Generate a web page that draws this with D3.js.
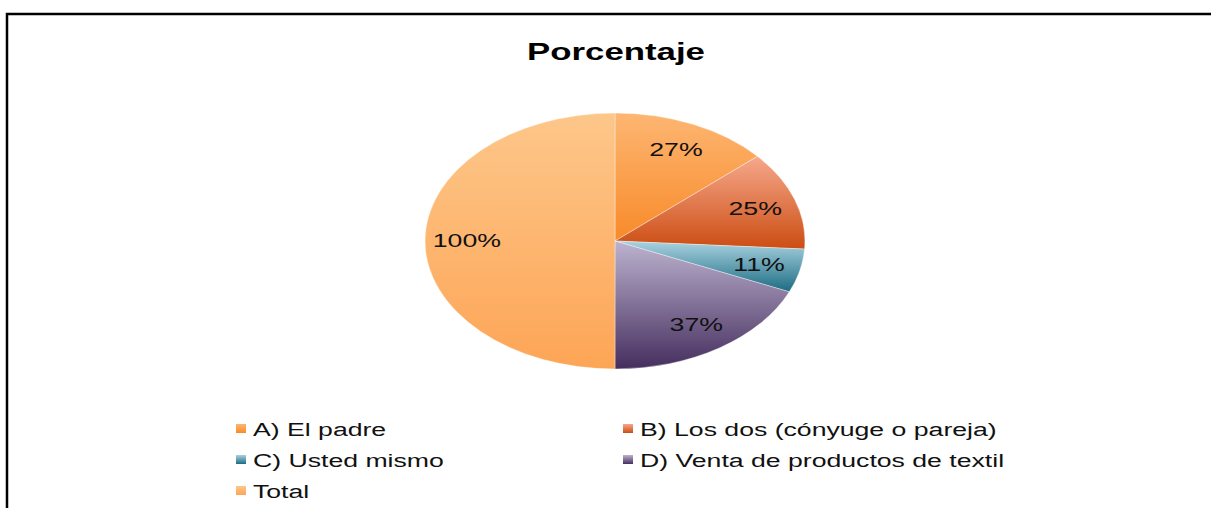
<!DOCTYPE html>
<html>
<head>
<meta charset="utf-8">
<script src="https://cdn.jsdelivr.net/npm/d3@7"></script>
<style>
  html, body { margin: 0; padding: 0; background: #fff; }
  svg { display: block; font-family: "Liberation Sans", Arial, sans-serif; }
</style>
</head>
<body>
<svg id="chart"></svg>
<script>
const title = 'Porcentaje';
const categories = ['A) El padre', 'B) Los dos (cónyuge o pareja)', 'C) Usted mismo', 'D) Venta de productos de textil', 'Total'];
const values = [27, 25, 11, 37, 100];
const valueLabels = ['27%', '25%', '11%', '37%', '100%'];

const topColors = ['#fdb672', '#f6a88c', '#aad2e0', '#bdb3cf', '#fdc78a'];
const bottomColors = ['#f88a2a', '#cc4d12', '#1c6c83', '#452e5e', '#fda556'];

const width = 1211, height = 508;
const cx = 615, cy = 241, r = 128, sx = 1.484;

const svg = d3.select('#chart')
    .attr('width', width)
    .attr('height', height);

const defs = svg.append('defs');
categories.forEach((c, i) => {
    const g = defs.append('linearGradient')
        .attr('id', 'grad' + i)
        .attr('x1', 0).attr('y1', 0)
        .attr('x2', 0).attr('y2', 1);
    g.append('stop').attr('offset', '0%').attr('stop-color', topColors[i]);
    g.append('stop').attr('offset', '100%').attr('stop-color', bottomColors[i]);
});

// frame (cut off at right and bottom)
svg.append('path')
    .attr('d', `M7,${height} V14 H${width}`)
    .attr('fill', 'none')
    .attr('stroke', '#000')
    .attr('stroke-width', 2.5);

svg.append('text')
    .attr('transform', `translate(616,60) scale(1.45,1)`)
    .attr('text-anchor', 'middle')
    .attr('font-size', 24)
    .attr('font-weight', 'bold')
    .attr('fill', '#000')
    .text(title);

const data = categories.map((c, i) => ({ name: c, value: values[i], label: valueLabels[i], i }));

const pie = d3.pie().sort(null).value(d => d.value);
const arc = d3.arc().innerRadius(0).outerRadius(r);
const labelArc = d3.arc().innerRadius(r * 0.78).outerRadius(r * 0.78);

// chart is stretched horizontally
const pieG = svg.append('g')
    .attr('transform', `translate(${cx},${cy}) scale(${sx},1)`);

const arcs = pie(data);

pieG.selectAll('path')
    .data(arcs)
    .join('path')
    .attr('d', arc)
    .attr('fill', d => `url(#grad${d.data.i})`)
    .attr('stroke', '#fff')
    .attr('stroke-opacity', 0.5)
    .attr('stroke-width', 0.6);

pieG.selectAll('text')
    .data(arcs)
    .join('text')
    .attr('x', d => labelArc.centroid(d)[0])
    .attr('y', d => labelArc.centroid(d)[1])
    .attr('text-anchor', 'middle')
    .attr('dy', '0.36em')
    .attr('font-size', 18)
    .attr('fill', '#111')
    .text(d => d.data.label);

// legend
const legendCols = [236, 623];
const legendY0 = 429, legendStep = 31;
const legend = svg.append('g');
const items = legend.selectAll('g')
    .data(data)
    .join('g')
    .attr('transform', (d, i) => `translate(${legendCols[i % 2]},${legendY0 + Math.floor(i / 2) * legendStep})`);

items.append('rect')
    .attr('x', 0)
    .attr('y', -5)
    .attr('width', 10)
    .attr('height', 9)
    .attr('fill', d => `url(#grad${d.i})`);

items.append('text')
    .attr('transform', 'translate(17,6.5) scale(1.48,1)')
    .attr('font-size', 18)
    .attr('fill', '#111')
    .text(d => d.name);
</script>
</body>
</html>
